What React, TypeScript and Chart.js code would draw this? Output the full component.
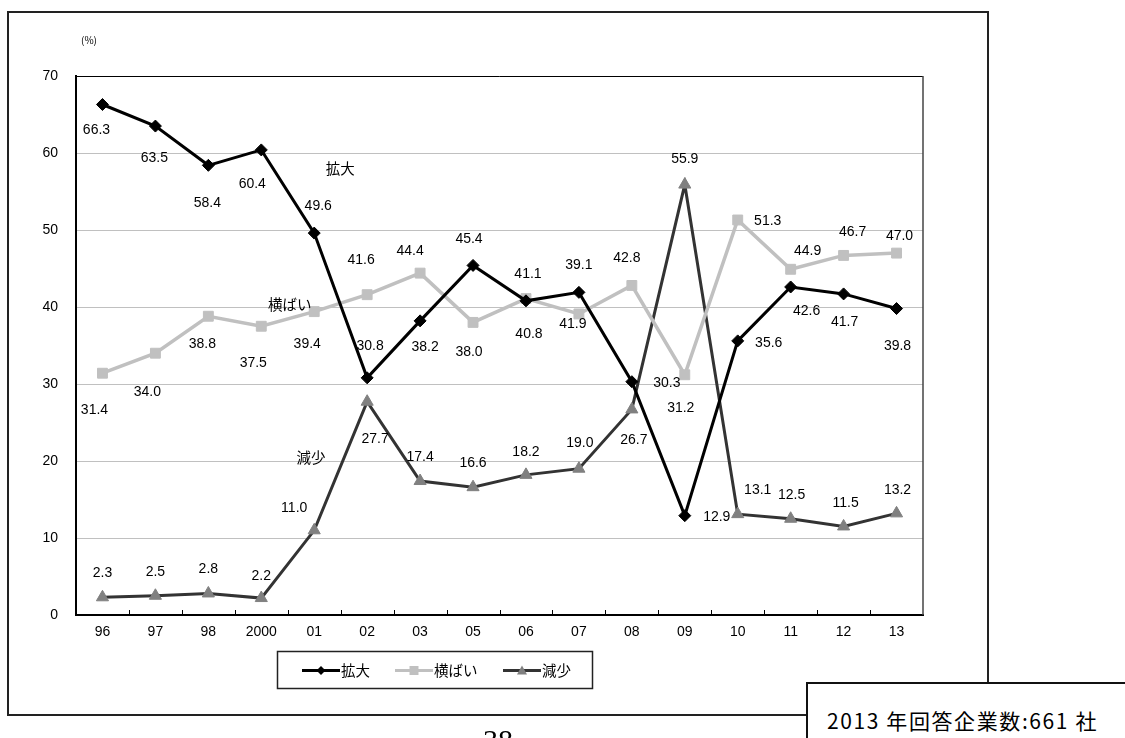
import React, { useEffect, useRef } from 'react';
import { Chart, registerables } from 'chart.js';

Chart.register(...registerables);

// ---- data ----
const categories = ['96', '97', '98', '2000', '01', '02', '03', '05', '06', '07', '08', '09', '10', '11', '12', '13'];
const expandValues = [66.3, 63.5, 58.4, 60.4, 49.6, 30.8, 38.2, 45.4, 40.8, 41.9, 30.3, 12.9, 35.6, 42.6, 41.7, 39.8];
const flatValues = [31.4, 34.0, 38.8, 37.5, 39.4, 41.6, 44.4, 38.0, 41.1, 39.1, 42.8, 31.2, 51.3, 44.9, 46.7, 47.0];
const shrinkValues = [2.3, 2.5, 2.8, 2.2, 11.0, 27.7, 17.4, 16.6, 18.2, 19.0, 26.7, 55.9, 13.1, 12.5, 11.5, 13.2];
const seriesNames = ['拡大', '横ばい', '減少'];
const yMin = 0;
const yMax = 70;
const yStep = 10;
const unitLabel = '(%)';
const noteText = '2013 年回答企業数:661 社';
const pageNumber = '38';

// ---- label placement (style, pixel offsets from each point) ----
const expandLabelOffsets = [[-6, 26], [-1, 32], [-1, 38], [-9, 34], [4, -27], [3, -32], [5, 26], [-4, -26], [3, 33], [-6, 32], [35, 1], [32, 1], [31, 2], [16, 24], [1, 28], [1, 38]];
const flatLabelOffsets = [[-8, 37], [-8, 39], [-6, 28], [-8, 37], [-7, 33], [-6, -35], [-10, -22], [-4, 30], [2, -24], [0, -49], [-5, -27], [-4, 33], [30, 1], [17, -18], [9, -23], [3, -17]];
const shrinkLabelOffsets = [[0, -24], [0, -24], [0, -24], [0, -22], [-20, -22], [8, 37], [0, -24], [0, -24], [0, -23], [1, -26], [2, 31], [0, -25], [20, -24], [1, -24], [2, -23], [1, -23]];
// series name annotations placed in data coordinates (category index, value)
const annotations = [
  { text: '拡大', x: 4.49, y: 58.0 },
  { text: '横ばい', x: 3.54, y: 40.3 },
  { text: '減少', x: 3.94, y: 20.5 },
];

const NUM_FONT = '"Liberation Sans", Arial, sans-serif';
const JP_FONT = '"Noto Sans CJK JP", "Noto Sans", sans-serif';

const colors = {
  expandLine: '#000000',
  expandPoint: '#000000',
  flatLine: '#c0c0c0',
  flatPoint: '#c0c0c0',
  shrinkLine: '#333333',
  shrinkPoint: '#808080',
};

function drawMarker(ctx: CanvasRenderingContext2D, kind: string, x: number, y: number, r: number, color: string) {
  ctx.save();
  ctx.fillStyle = color;
  ctx.beginPath();
  if (kind === 'diamond') {
    ctx.moveTo(x, y - r);
    ctx.lineTo(x + r, y);
    ctx.lineTo(x, y + r);
    ctx.lineTo(x - r, y);
  } else if (kind === 'square') {
    ctx.rect(x - r, y - r, 2 * r, 2 * r);
  } else {
    ctx.moveTo(x, y - r);
    ctx.lineTo(x + r, y + r * 0.8);
    ctx.lineTo(x - r, y + r * 0.8);
  }
  ctx.closePath();
  ctx.fill();
  ctx.restore();
}

const customPlugin = {
  id: 'customDecor',
  beforeDatasetsDraw(chart: any) {
    const { ctx, chartArea } = chart;
    const { left, right, top, bottom } = chartArea;
    ctx.save();
    // plot border top and right
    ctx.strokeStyle = '#000';
    ctx.lineWidth = 1;
    ctx.beginPath();
    ctx.moveTo(left, top + 0.5);
    ctx.lineTo(right, top + 0.5);
    ctx.stroke();
    ctx.strokeStyle = '#444';
    ctx.lineWidth = 1.5;
    ctx.beginPath();
    ctx.moveTo(right, top);
    ctx.lineTo(right, bottom);
    ctx.stroke();
    // inward tick marks at category boundaries
    const n = categories.length;
    const w = (right - left) / n;
    ctx.strokeStyle = '#000';
    ctx.lineWidth = 1;
    for (let k = 1; k < n; k++) {
      const x = Math.round(left + k * w) + 0.5;
      ctx.beginPath();
      ctx.moveTo(x, bottom);
      ctx.lineTo(x, bottom - 5);
      ctx.stroke();
    }
    ctx.restore();
  },
  afterDatasetsDraw(chart: any) {
    const { ctx, chartArea } = chart;
    const xScale = chart.scales.x;
    const yScale = chart.scales.y;
    ctx.save();
    // data labels
    const offsetsList = [expandLabelOffsets, flatLabelOffsets, shrinkLabelOffsets];
    ctx.font = `14px ${NUM_FONT}`;
    ctx.fillStyle = '#000';
    ctx.textAlign = 'center';
    ctx.textBaseline = 'middle';
    chart.data.datasets.forEach((ds: any, di: number) => {
      const meta = chart.getDatasetMeta(di);
      meta.data.forEach((pt: any, i: number) => {
        const off = offsetsList[di][i];
        const v = ds.data[i] as number;
        ctx.fillText(v.toFixed(1), pt.x + off[0], pt.y + off[1]);
      });
    });
    // series annotations
    ctx.font = `14.5px ${JP_FONT}`;
    annotations.forEach((a) => {
      ctx.fillText(a.text, xScale.getPixelForValue(a.x), yScale.getPixelForValue(a.y));
    });
    // unit label
    ctx.font = `10px ${JP_FONT}`;
    ctx.textAlign = 'left';
    ctx.fillText(unitLabel, chartArea.left + 5, 40);

    // legend
    const lx = 277, ly = 651, lw = 315, lh = 37;
    ctx.strokeStyle = '#222';
    ctx.lineWidth = 1.5;
    ctx.strokeRect(lx + 0.5, ly + 0.5, lw, lh);
    const cy = ly + lh / 2 + 1;
    const items = [
      { name: seriesNames[0], x: 302, line: colors.expandLine, pt: colors.expandPoint, kind: 'diamond', r: 4.5 },
      { name: seriesNames[1], x: 395, line: colors.flatLine, pt: colors.flatPoint, kind: 'square', r: 4.5 },
      { name: seriesNames[2], x: 503, line: colors.shrinkLine, pt: colors.shrinkPoint, kind: 'triangle', r: 5 },
    ];
    items.forEach((it) => {
      ctx.strokeStyle = it.line;
      ctx.lineWidth = 3;
      ctx.beginPath();
      ctx.moveTo(it.x, cy);
      ctx.lineTo(it.x + 38, cy);
      ctx.stroke();
      drawMarker(ctx, it.kind, it.x + 19, cy, it.r, it.pt);
      ctx.fillStyle = '#000';
      ctx.font = `14.5px ${JP_FONT}`;
      ctx.textAlign = 'left';
      ctx.textBaseline = 'middle';
      ctx.fillText(it.name, it.x + 39, cy);
    });
    ctx.restore();
  },
};

export default function App() {
  const canvasRef = useRef<HTMLCanvasElement | null>(null);

  useEffect(() => {
    document.body.style.margin = '0';
    document.body.style.overflow = 'hidden';
    document.documentElement.style.overflow = 'hidden';
    const canvas = canvasRef.current;
    if (!canvas) return;
    const chart = new Chart(canvas, {
      type: 'line',
      data: {
        labels: categories,
        datasets: [
          {
            label: seriesNames[0],
            data: expandValues,
            borderColor: colors.expandLine,
            backgroundColor: colors.expandPoint,
            borderWidth: 3,
            pointStyle: 'rectRot',
            pointRadius: 6,
            pointBackgroundColor: colors.expandPoint,
            pointBorderColor: colors.expandPoint,
            pointBorderWidth: 1,
            tension: 0,
          },
          {
            label: seriesNames[1],
            data: flatValues,
            borderColor: colors.flatLine,
            backgroundColor: colors.flatPoint,
            borderWidth: 3.5,
            pointStyle: 'rect',
            pointRadius: 7,
            pointBackgroundColor: colors.flatPoint,
            pointBorderColor: colors.flatPoint,
            pointBorderWidth: 1,
            tension: 0,
          },
          {
            label: seriesNames[2],
            data: shrinkValues,
            borderColor: colors.shrinkLine,
            backgroundColor: colors.shrinkPoint,
            borderWidth: 3,
            pointStyle: 'triangle',
            pointRadius: 7,
            pointBackgroundColor: colors.shrinkPoint,
            pointBorderColor: colors.shrinkPoint,
            pointBorderWidth: 1,
            tension: 0,
          },
        ],
      },
      options: {
        responsive: false,
        animation: false,
        devicePixelRatio: 1,
        layout: { padding: { left: 0, top: 76, right: 202, bottom: 0 } },
        plugins: {
          legend: { display: false },
          tooltip: { enabled: false },
        },
        scales: {
          x: {
            type: 'category',
            offset: true,
            grid: { display: false, drawTicks: false },
            border: { display: true, color: '#000', width: 2 },
            ticks: {
              color: '#000',
              font: { family: NUM_FONT, size: 14 },
              padding: 9,
              maxRotation: 0,
              autoSkip: false,
            },
            afterFit: (scale: any) => {
              scale.height = 123;
            },
          },
          y: {
            min: yMin,
            max: yMax,
            grid: { color: '#c0c0c0', lineWidth: 1, drawTicks: false },
            border: { display: true, color: '#000', width: 2 },
            ticks: {
              stepSize: yStep,
              color: '#000',
              font: { family: NUM_FONT, size: 14 },
              padding: 18,
            },
            afterFit: (scale: any) => {
              scale.width = 76;
            },
          },
        },
      },
      plugins: [customPlugin],
    });
    return () => chart.destroy();
  }, []);

  return (
    <div style={{ position: 'relative', width: 1125, height: 738, overflow: 'hidden', background: '#fff' }}>
      <div
        style={{
          position: 'absolute',
          left: 7,
          top: 11,
          width: 982,
          height: 705,
          boxSizing: 'border-box',
          border: '2px solid #222',
        }}
      />
      <canvas ref={canvasRef} width={1125} height={738} style={{ position: 'absolute', left: 0, top: 0, width: 1125, height: 738 }} />
      <div
        style={{
          position: 'absolute',
          left: 806,
          top: 682,
          width: 400,
          height: 100,
          boxSizing: 'border-box',
          border: '2px solid #111',
          background: '#fff',
        }}
      />
      <div
        style={{
          position: 'absolute',
          left: 827,
          top: 707,
          lineHeight: '26px',
          fontSize: 21,
          letterSpacing: '1.6px',
          fontFamily: JP_FONT,
          color: '#000',
          whiteSpace: 'pre',
        }}
      >
        {noteText}
      </div>
      <div
        style={{
          position: 'absolute',
          left: 483,
          top: 725,
          lineHeight: '30px',
          fontSize: 30,
          fontFamily: '"Liberation Serif", "DejaVu Serif", serif',
          color: '#000',
        }}
      >
        {pageNumber}
      </div>
    </div>
  );
}
